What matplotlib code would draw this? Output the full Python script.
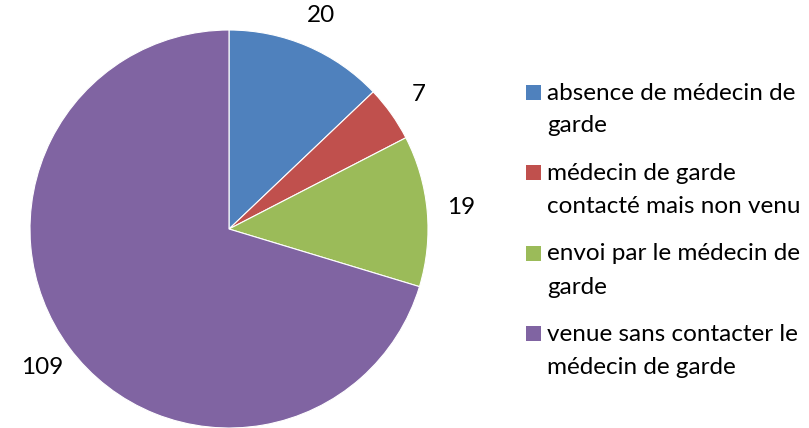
import matplotlib
matplotlib.use("Agg")
import matplotlib.pyplot as plt
from matplotlib.patches import Rectangle

categories = [
    "absence de médecin de\ngarde",
    "médecin de garde\ncontacté mais non venu",
    "envoi par le médecin de\ngarde",
    "venue sans contacter le\nmédecin de garde",
]
values = [20, 7, 19, 109]
colors = ["#4F81BD", "#C0504D", "#9BBB59", "#8064A2"]

plt.rcParams["font.family"] = ["Lato", "DejaVu Sans"]
FS = 17.5

W, H = 809, 428
fig = plt.figure(figsize=(W / 100, H / 100), dpi=100)
fig.patch.set_facecolor("white")

# pie axes: center (229,229) px, radius 199 px
R = 199
cx, cy = 229, 229
ax = fig.add_axes([(cx - R) / W, (H - cy - R) / H, 2 * R / W, 2 * R / H])
wedges, texts = ax.pie(
    values,
    labels=[str(v) for v in values],
    colors=colors,
    startangle=90,
    counterclock=False,
    labeldistance=1.17,
    wedgeprops=dict(edgecolor="white", linewidth=0.8),
    textprops=dict(fontsize=FS, color="black"),
)
for t in texts:
    t.set_ha("center")
    t.set_va("center")
ax.set_xlim(-1, 1)
ax.set_ylim(-1, 1)
ax.set_aspect("equal")
ax.axis("off")

# legend (manual layout to keep marker aligned with first text line)
sq = 15
x_sq = 526
x_txt = 547
first_baseline = 99.5
entry_step = 80.5
line_step = 33
for i, (lab, col) in enumerate(zip(categories, colors)):
    b = first_baseline + i * entry_step
    fig.patches.append(Rectangle(((x_sq) / W, (H - b) / H), sq / W, sq / H,
                                 transform=fig.transFigure, facecolor=col,
                                 edgecolor="none"))
    for j, line in enumerate(lab.split("\n")):
        fig.text(x_txt / W, (H - (b + j * line_step)) / H, line,
                 fontsize=FS, va="baseline", ha="left", color="black")

fig.savefig("out.png", dpi=100, facecolor="white")
